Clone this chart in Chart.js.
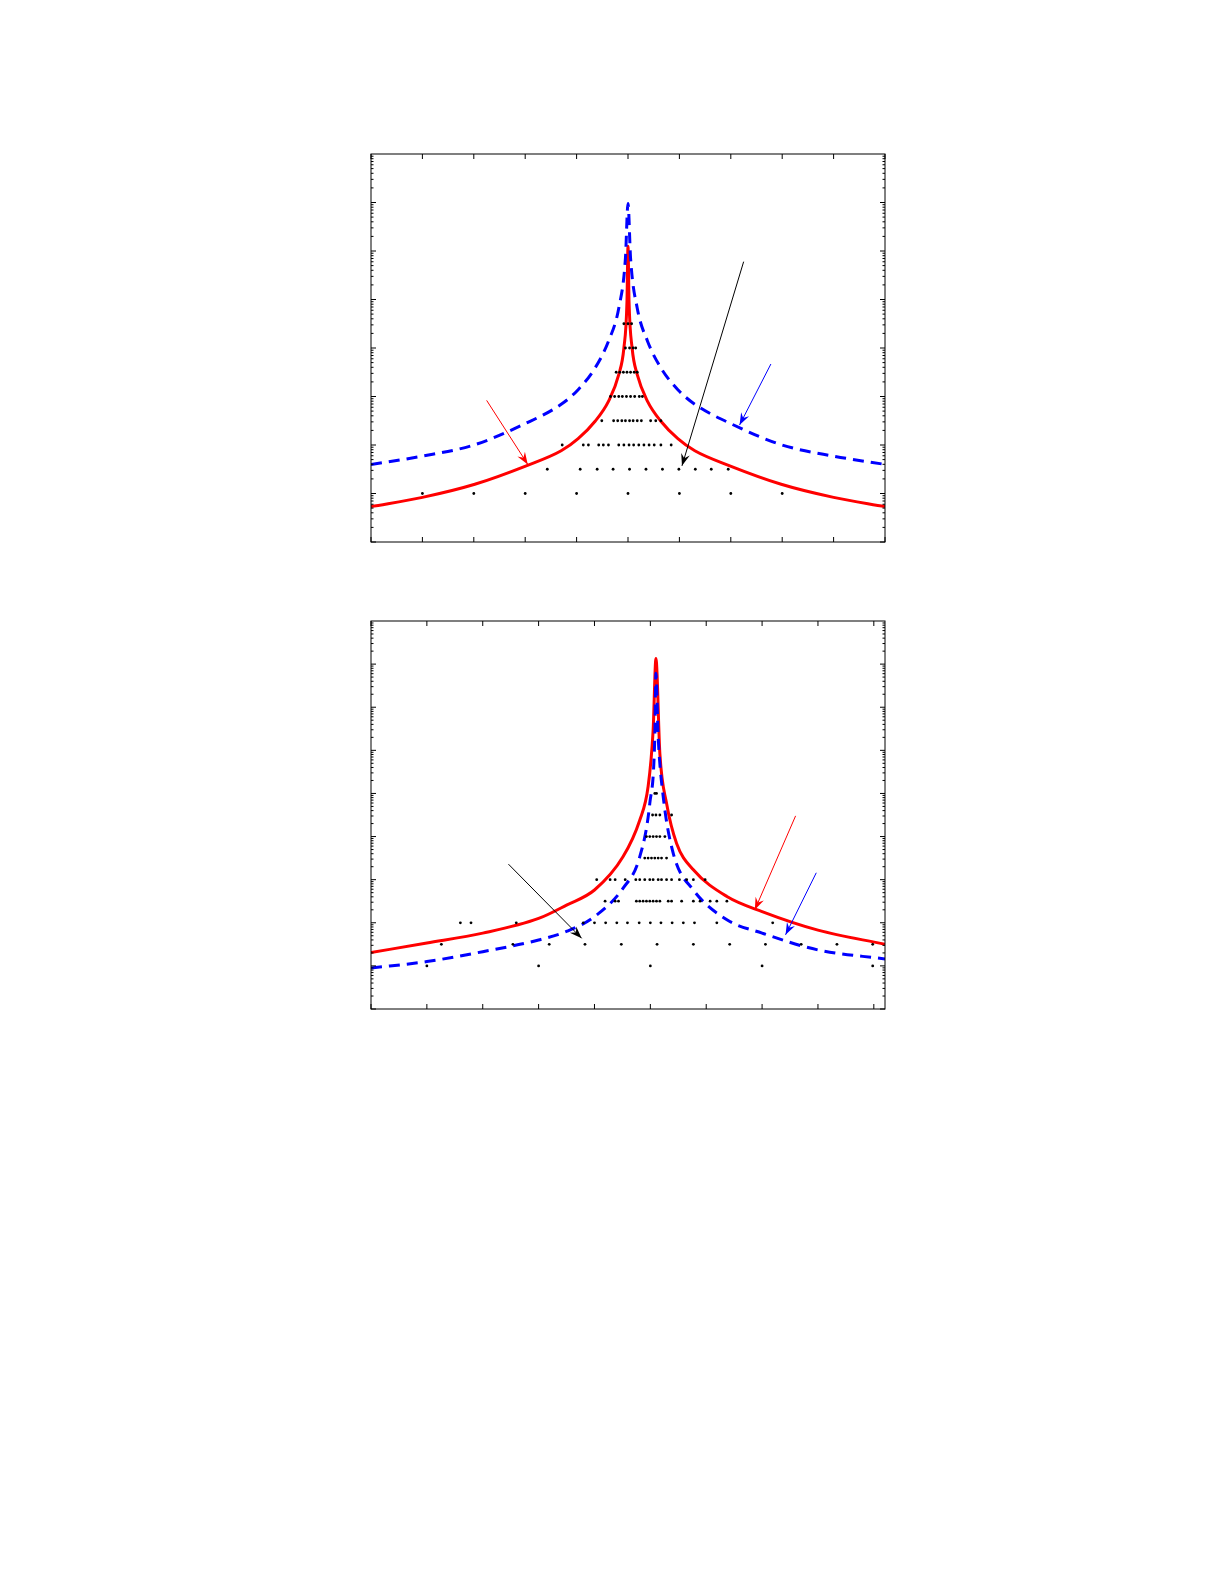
<!DOCTYPE html>
<html>
<head>
<meta charset="utf-8">
<script src="https://cdn.jsdelivr.net/npm/chart.js@4"></script>
<style>
  body { margin: 0; background: #fff; width: 1225px; height: 1585px; position: relative; }
  canvas { position: absolute; left: 367px; }
</style>
</head>
<body>
<canvas id="top" width="522" height="396" style="top:150px;width:522px;height:396px"></canvas>
<canvas id="bottom" width="522" height="396" style="top:617px;width:522px;height:396px"></canvas>
<script>
// y given as log10 exponents
// --- top panel ---
const topRedX   = [-5, -4, -2.98, -1.98, -1.3, -0.97, -0.64, -0.38, -0.18, -0.08, -0.02, 0, 0.02, 0.08, 0.18, 0.38, 0.64, 0.97, 1.3, 1.98, 2.98, 4, 5];
const topRedE   = [0.73, 0.92, 1.19, 1.57, 1.88, 2.13, 2.49, 2.9, 3.45, 4.0, 4.96, 6.1, 4.96, 4.0, 3.45, 2.9, 2.49, 2.13, 1.88, 1.57, 1.19, 0.92, 0.73];
const topBlueX  = [-5, -4, -3, -2, -1.3, -0.97, -0.64, -0.38, -0.18, -0.05, 0, 0.05, 0.18, 0.38, 0.64, 0.97, 1.3, 2, 3, 4, 5];
const topBlueE  = [1.6, 1.77, 2.0, 2.44, 2.84, 3.14, 3.59, 4.14, 4.82, 5.85, 6.98, 5.85, 4.82, 4.14, 3.59, 3.14, 2.84, 2.44, 2.0, 1.77, 1.6];
const topDotRows = [
  [1.0, [-4, -3, -2, -1, 0, 1, 2, 3]],
  [1.5, [-1.57, -0.93, -0.6, -0.29, 0.03, 0.35, 0.67, 0.99, 1.31, 1.62, 1.95]],
  [2.0, [-1.28, -0.87, -0.77, -0.57, -0.48, -0.38, -0.18, -0.08, 0.02, 0.11, 0.21, 0.31, 0.41, 0.51, 0.64, 0.84]],
  [2.5, [-0.51, -0.28, -0.2, -0.12, -0.05, 0.03, 0.1, 0.18, 0.26, 0.44, 0.54, 0.64]],
  [3.0, [-0.34, -0.26, -0.18, -0.11, -0.03, 0.05, 0.13, 0.22, 0.28]],
  [3.5, [-0.23, -0.16, -0.09, -0.02, 0.05, 0.12, 0.18]],
  [4.0, [-0.05, 0.03, 0.1, 0.15]],
  [4.5, [-0.08, 0.0, 0.07]]
];
const topArrows = [
  ['#ff0000', [-2.75, 2.92], [-1.95, 1.6]],
  ['#0000ff', [2.78, 3.67], [2.17, 2.41]],
  ['#000000', [2.25, 5.78], [1.05, 1.57]]
];
// --- bottom panel ---
const botRedX  = [-5, -4, -3, -2, -1.5, -1, -0.49, -0.19, -0.04, 0.05, 0.1, 0.17, 0.29, 0.47, 0.77, 1.37, 2, 3, 4.2];
const botRedE  = [1.31, 1.53, 1.76, 2.1, 2.41, 2.76, 3.53, 4.38, 5.16, 6.47, 8.13, 5.93, 4.77, 3.84, 3.23, 2.61, 2.26, 1.83, 1.5];
const botBlueX = [-5, -4, -3, -2, -1.5, -1, -0.49, -0.19, -0.01, 0.08, 0.1, 0.14, 0.23, 0.41, 0.77, 1.37, 2, 3, 4.2];
const botBlueE = [0.95, 1.1, 1.33, 1.6, 1.8, 2.14, 2.8, 3.53, 4.77, 6.32, 7.79, 6.32, 4.93, 3.61, 2.76, 2.07, 1.76, 1.37, 1.16];
const botDotRows = [
  [1.0, [-4, -2, 0, 2, 3.98]],
  [1.5, [-3.74, -2.46, -1.81, -1.17, -0.52, 0.12, 0.77, 1.42, 2.06, 2.7, 3.34, 3.98]],
  [2.0, [-3.4, -3.21, -2.4, -1.2, -1.0, -0.8, -0.6, -0.41, -0.2, 0.0, 0.19, 0.39, 0.59, 0.79, 1.19, 2.19]],
  [2.5, [-0.81, -0.63, -0.57, -0.25, -0.19, -0.13, -0.07, -0.01, 0.05, 0.11, 0.17, 0.32, 0.38, 0.56, 0.77, 0.89, 1.07, 1.19, 1.37]],
  [3.0, [-0.96, -0.72, -0.63, -0.45, -0.26, -0.19, -0.1, -0.01, 0.05, 0.14, 0.2, 0.29, 0.38, 0.52, 0.65, 0.77, 0.98]],
  [3.5, [-0.1, -0.04, 0.02, 0.08, 0.14, 0.2, 0.29]],
  [4.0, [-0.07, -0.01, 0.05, 0.11, 0.17, 0.26]],
  [4.5, [0.04, 0.1, 0.17, 0.38]],
  [5.0, [0.08, 0.11]]
];
const botArrows = [
  ['#000000', [-2.54, 3.36], [-1.23, 1.64]],
  ['#ff0000', [2.6, 4.48], [1.87, 2.3]],
  ['#0000ff', [2.97, 3.16], [2.42, 1.72]]
];

const pts = (xs, es) => xs.map((x, i) => ({ x: x, y: Math.pow(10, es[i]) }));
const dots = rows => rows.flatMap(([e, xs]) => xs.map(x => ({ x: x, y: Math.pow(10, e) })));

// box, inward ticks (log minors on y) and arrows
const framePlugin = {
  id: 'frame',
  afterDraw(chart, args, opts) {
    const { ctx, chartArea: a, scales: { x, y } } = chart;
    ctx.save();
    ctx.strokeStyle = '#000';
    ctx.lineWidth = 1;
    ctx.strokeRect(a.left, a.top, a.right - a.left, a.bottom - a.top);
    ctx.beginPath();
    for (let t = Math.ceil(x.min); t <= x.max; t++) {
      const px = x.getPixelForValue(t);
      ctx.moveTo(px, a.top); ctx.lineTo(px, a.top + 5);
      ctx.moveTo(px, a.bottom); ctx.lineTo(px, a.bottom - 5);
    }
    const lo = Math.log10(y.min), hi = Math.log10(y.max);
    for (let d = lo; d < hi; d++) {
      for (let m = 1; m < 10; m++) {
        const py = y.getPixelForValue(m * Math.pow(10, d));
        const len = m === 1 ? 5 : 2.5;
        ctx.moveTo(a.left, py); ctx.lineTo(a.left + len, py);
        ctx.moveTo(a.right, py); ctx.lineTo(a.right - len, py);
      }
    }
    ctx.stroke();
    opts.arrows.forEach(([c, from, to]) => {
      const x0 = x.getPixelForValue(from[0]), y0 = y.getPixelForValue(Math.pow(10, from[1]));
      const x1 = x.getPixelForValue(to[0]), y1 = y.getPixelForValue(Math.pow(10, to[1]));
      const ang = Math.atan2(y1 - y0, x1 - x0);
      ctx.strokeStyle = c; ctx.fillStyle = c; ctx.lineWidth = 1;
      ctx.beginPath(); ctx.moveTo(x0, y0); ctx.lineTo(x1, y1); ctx.stroke();
      ctx.beginPath();
      ctx.moveTo(x1, y1);
      ctx.lineTo(x1 - 13 * Math.cos(ang - 0.35), y1 - 13 * Math.sin(ang - 0.35));
      ctx.lineTo(x1 - 8 * Math.cos(ang), y1 - 8 * Math.sin(ang));
      ctx.lineTo(x1 - 13 * Math.cos(ang + 0.35), y1 - 13 * Math.sin(ang + 0.35));
      ctx.closePath(); ctx.fill();
    });
    ctx.restore();
  }
};

function makeChart(id, red, blue, dotPts, xMax, yMax, arrows) {
  new Chart(document.getElementById(id), {
    type: 'scatter',
    data: {
      datasets: [
        { data: dotPts, pointRadius: 1.4, pointBackgroundColor: '#000', pointBorderWidth: 0 },
        { data: blue, showLine: true, borderColor: '#0000ff', borderWidth: 3, borderDash: [11, 7],
          pointRadius: 0, cubicInterpolationMode: 'monotone' },
        { data: red, showLine: true, borderColor: '#ff0000', borderWidth: 3,
          pointRadius: 0, cubicInterpolationMode: 'monotone' }
      ]
    },
    options: {
      animation: false,
      responsive: false,
      devicePixelRatio: 1,
      layout: { padding: 1 },
      plugins: { legend: { display: false }, tooltip: { enabled: false }, frame: { arrows: arrows } },
      scales: {
        x: { type: 'linear', min: -5, max: xMax, display: false },
        y: { type: 'logarithmic', min: 1, max: yMax, display: false }
      }
    },
    plugins: [framePlugin]
  });
}

makeChart('top', pts(topRedX, topRedE), pts(topBlueX, topBlueE), dots(topDotRows), 5, 1e8, topArrows);
makeChart('bottom', pts(botRedX, botRedE), pts(botBlueX, botBlueE), dots(botDotRows), 4.2, 1e9, botArrows);
</script>
</body>
</html>
